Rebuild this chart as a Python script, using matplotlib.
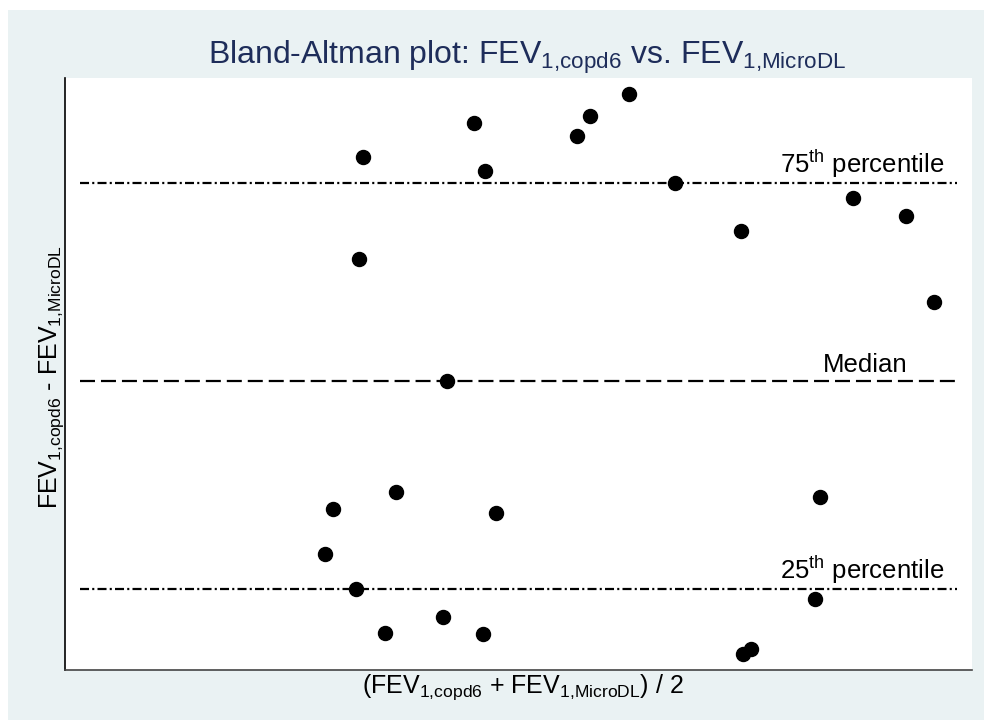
import numpy as np
import matplotlib
matplotlib.use("Agg")
import matplotlib.pyplot as plt
from matplotlib.patches import Rectangle
import matplotlib.transforms as mtransforms

# mean of the two FEV1 readings (L) and their difference (L)
fev_mean = [1.452, 1.436, 1.896, 1.940, 2.308, 2.360, 2.516, 2.700, 2.964, 3.412,
            3.624, 3.736, 1.788, 1.584, 1.332, 1.984, 1.300, 1.424, 1.540, 1.772,
            1.932, 3.280, 3.260, 2.972, 3.004]
fev_diff = [0.224, 0.122, 0.258, 0.210, 0.245, 0.265, 0.287, 0.198, 0.150, 0.183,
            0.165, 0.079, 0.000, -0.111, -0.128, -0.132, -0.173, -0.208, -0.252, -0.236,
            -0.253, -0.116, -0.218, -0.273, -0.268]

p25, med, p75 = np.percentile(fev_diff, [25, 50, 75])

plt.rcParams['font.family'] = ['Liberation Sans', 'DejaVu Sans']
plt.rcParams['mathtext.fontset'] = 'custom'
plt.rcParams['mathtext.rm'] = 'Liberation Sans'
plt.rcParams['mathtext.it'] = 'Liberation Sans'
plt.rcParams['lines.scale_dashes'] = False

bg = '#eaf2f3'
fig = plt.figure(figsize=(9.84, 7.2), dpi=100, facecolor='white')
fig.patches.append(Rectangle((8 / 984, 0), 1 - 8 / 984, 710 / 720, transform=fig.transFigure,
                             facecolor=bg, edgecolor='none', zorder=-10))

ax = fig.add_axes([65 / 984, 50 / 720, 907 / 984, 592 / 720])
ax.set_facecolor('white')
ax.scatter(fev_mean, fev_diff, s=14 ** 2 * 0.5184, color='black', zorder=3)

# reference lines
dashdot = (6.5, 2.3, 1.5, 2.3)
ax.axhline(p75, xmin=0.0165, xmax=0.983, color='black', lw=1.6, dashes=dashdot)
ax.axhline(med, xmin=0.0165, xmax=0.983, color='black', lw=1.6, dashes=(10.8, 4.3))
ax.axhline(p25, xmin=0.0165, xmax=0.983, color='black', lw=1.6, dashes=dashdot)

trans = mtransforms.blended_transform_factory(ax.transAxes, ax.transData)
lab_size = 18.5
ax.text(0.970, p75 + 0.003, r'75$^{\mathregular{th}}$ percentile', transform=trans,
        ha='right', va='bottom', fontsize=lab_size)
ax.text(0.929, med + 0.004, 'Median', transform=trans,
        ha='right', va='bottom', fontsize=lab_size)
ax.text(0.970, p25 + 0.003, r'25$^{\mathregular{th}}$ percentile', transform=trans,
        ha='right', va='bottom', fontsize=lab_size)

ax.set_xlim(0.26, 3.888)
ax.set_ylim(-0.289, 0.303)
ax.set_xticks([])
ax.set_yticks([])
for side in ['top', 'right']:
    ax.spines[side].set_visible(False)
ax.spines['left'].set_color('black')
ax.spines['bottom'].set_color('#444444')
ax.spines['left'].set_linewidth(1.2)
ax.spines['bottom'].set_linewidth(1.2)

sub_a = r'$_{\mathregular{1{,}copd6}}$'
sub_b = r'$_{\mathregular{1{,}MicroDL}}$'
fig.text(527 / 984, 1 - 64 / 720, 'Bland-Altman plot: FEV' + sub_a + ' vs. FEV' + sub_b,
         ha='center', va='baseline', fontsize=23, color='#1e2d5a')
fig.text(523 / 984, 1 - 693 / 720, '(FEV' + sub_a + ' + FEV' + sub_b + ') / 2',
         ha='center', va='baseline', fontsize=18)
fig.text(57 / 984, 1 - 377 / 720, 'FEV' + sub_a + ' - FEV' + sub_b,
         ha='center', va='baseline', rotation=90, rotation_mode='anchor', fontsize=18)

fig.savefig('out.png', dpi=100, facecolor=fig.get_facecolor())
